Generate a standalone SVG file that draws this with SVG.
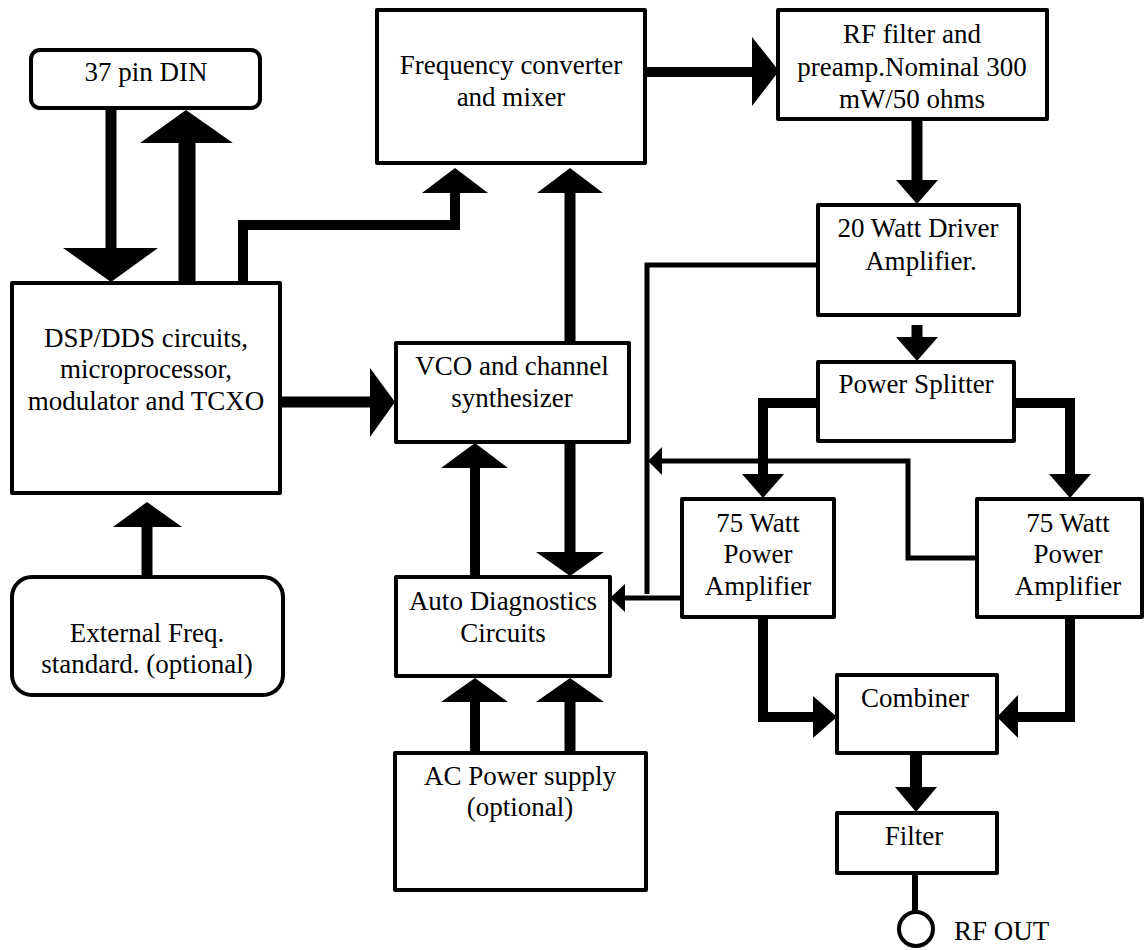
<svg xmlns="http://www.w3.org/2000/svg" width="1145" height="950" viewBox="0 0 1145 950">
<style>
.box{fill:#fff;stroke:#000;stroke-width:4;stroke-linejoin:round}
.t{font-family:"Liberation Serif","Times New Roman",serif;font-size:27px;fill:#000;text-anchor:middle}
.th{fill:none;stroke:#000;stroke-width:11;stroke-linejoin:miter;stroke-linecap:butt}
.tn{fill:none;stroke:#000;stroke-width:5;stroke-linejoin:miter;stroke-linecap:butt}
.hd{fill:#000;stroke:none}
</style>
<rect width="1145" height="950" fill="#fff"/>
<g id="connectors">
  <!-- DIN -> DSP -->
  <line class="th" x1="111" y1="108" x2="111" y2="250"/>
  <polygon class="hd" points="63,248 158,248 111,282"/>
  <!-- DSP -> DIN -->
  <line class="th" style="stroke-width:17" x1="187" y1="283" x2="187" y2="141"/>
  <polygon class="hd" points="140,143 233,143 186,110"/>
  <!-- DSP -> Freq -->
  <polyline class="th" style="stroke-width:10" points="243,283 243,225 455,225 455,191"/>
  <polygon class="hd" points="422,193 488,193 455,168"/>
  <!-- VCO -> Freq -->
  <line class="th" x1="570" y1="343" x2="570" y2="191"/>
  <polygon class="hd" points="537,193 603,193 570,168"/>
  <!-- Freq -> RF -->
  <line class="th" style="stroke-width:10" x1="645" y1="72" x2="754" y2="72"/>
  <polygon class="hd" points="752,37 752,106 779,71"/>
  <!-- RF -> Driver -->
  <line class="th" x1="917" y1="119" x2="917" y2="182"/>
  <polygon class="hd" points="896,180 938,180 917,204"/>
  <!-- Driver -> Splitter -->
  <line class="th" x1="917" y1="325" x2="917" y2="339"/>
  <polygon class="hd" points="896,337 938,337 917,361"/>
  <!-- DSP -> VCO -->
  <line class="th" x1="280" y1="402" x2="372" y2="402"/>
  <polygon class="hd" points="370,368 370,437 395,402"/>
  <!-- Ext -> DSP -->
  <line class="th" x1="147" y1="577" x2="147" y2="525"/>
  <polygon class="hd" points="113,527 182,527 147,502"/>
  <!-- Diag -> VCO -->
  <line class="th" style="stroke-width:10" x1="475" y1="577" x2="475" y2="466"/>
  <polygon class="hd" points="441,468 508,468 475,443"/>
  <!-- VCO -> Diag -->
  <line class="th" x1="570" y1="442" x2="570" y2="554"/>
  <polygon class="hd" points="536,552 604,552 570,576"/>
  <!-- AC -> Diag -->
  <line class="th" style="stroke-width:10" x1="475" y1="753" x2="475" y2="700"/>
  <polygon class="hd" points="441,702 508,702 475,678"/>
  <line class="th" x1="570" y1="753" x2="570" y2="700"/>
  <polygon class="hd" points="536,702 604,702 570,678"/>
  <!-- Splitter -> Amps -->
  <polyline class="th" style="stroke-width:10" points="818,403 763,403 763,476"/>
  <polygon class="hd" points="742,474 784,474 763,498"/>
  <polyline class="th" style="stroke-width:10" points="1014,403 1070,403 1070,476"/>
  <polygon class="hd" points="1049,474 1091,474 1070,498"/>
  <!-- Amps -> Combiner -->
  <polyline class="th" style="stroke-width:10" points="763,617 763,717 815,717"/>
  <polygon class="hd" points="813,696 813,738 837,717"/>
  <polyline class="th" style="stroke-width:10" points="1070,617 1070,717 1016,717"/>
  <polygon class="hd" points="1018,695 1018,738 997,717"/>
  <!-- Combiner -> Filter -->
  <line class="th" style="stroke-width:12" x1="916" y1="753" x2="916" y2="789"/>
  <polygon class="hd" points="895,787 937,787 916,812"/>
  <!-- Filter -> RF OUT -->
  <line class="tn" style="stroke-width:6" x1="915" y1="873" x2="915" y2="912"/>
  <!-- Driver -> Diag (thin) -->
  <polyline class="tn" points="818,265 647,265 647,594"/>
  <!-- Amp1 -> Diag -->
  <line class="tn" x1="682" y1="598" x2="623" y2="598"/>
  <polygon class="hd" points="625,584 625,612 610,598"/>
  <!-- Amp2 feedback -->
  <polyline class="tn" points="977,558 908,558 908,461 661,461"/>
  <polygon class="hd" points="662,447 662,475 648,461"/>
</g>
<g id="din">
  <rect class="box" x="31" y="50" width="229" height="58" rx="9"/>
  <text class="t" x="146" y="81">37 pin DIN</text>
</g>
<g id="freq">
  <rect class="box" x="377" y="10" width="268" height="153"/>
  <text class="t" x="511" y="74">Frequency converter</text>
  <text class="t" x="511" y="106">and mixer</text>
</g>
<g id="rf">
  <rect class="box" x="778" y="10" width="269" height="109"/>
  <text class="t" x="912" y="43">RF filter and</text>
  <text class="t" x="912" y="76">preamp.Nominal 300</text>
  <text class="t" x="912" y="108">mW/50 ohms</text>
</g>
<g id="driver">
  <rect class="box" x="818" y="205" width="201" height="110"/>
  <text class="t" x="918" y="237">20 Watt Driver</text>
  <text class="t" x="921" y="270">Amplifier.</text>
</g>
<g id="dsp">
  <rect class="box" x="12" y="283" width="268" height="210"/>
  <text class="t" x="146" y="347">DSP/DDS circuits,</text>
  <text class="t" x="146" y="378">microprocessor,</text>
  <text class="t" x="146" y="410">modulator and TCXO</text>
</g>
<g id="vco">
  <rect class="box" x="396" y="343" width="233" height="99"/>
  <text class="t" x="512" y="375">VCO and channel</text>
  <text class="t" x="512" y="407">synthesizer</text>
</g>
<g id="splitter">
  <rect class="box" x="818" y="362" width="196" height="79"/>
  <text class="t" x="916" y="393">Power Splitter</text>
</g>
<g id="amp1">
  <rect class="box" x="682" y="499" width="152" height="118"/>
  <text class="t" x="758" y="532">75 Watt</text>
  <text class="t" x="758" y="563">Power</text>
  <text class="t" x="758" y="595">Amplifier</text>
</g>
<g id="amp2">
  <rect class="box" x="977" y="499" width="165" height="118"/>
  <text class="t" x="1068" y="532">75 Watt</text>
  <text class="t" x="1068" y="563">Power</text>
  <text class="t" x="1068" y="595">Amplifier</text>
</g>
<g id="diag">
  <rect class="box" x="396" y="577" width="214" height="99"/>
  <text class="t" x="503" y="610">Auto Diagnostics</text>
  <text class="t" x="503" y="642">Circuits</text>
</g>
<g id="ext">
  <rect class="box" x="12" y="577" width="271" height="118" rx="20"/>
  <text class="t" x="147" y="642">External Freq.</text>
  <text class="t" x="147" y="673">standard. (optional)</text>
</g>
<g id="ac">
  <rect class="box" x="395" y="753" width="251" height="137"/>
  <text class="t" x="520" y="785">AC Power supply</text>
  <text class="t" x="520" y="816">(optional)</text>
</g>
<g id="combiner">
  <rect class="box" x="837" y="675" width="160" height="78"/>
  <text class="t" x="915" y="707">Combiner</text>
</g>
<g id="filter">
  <rect class="box" x="837" y="813" width="160" height="60"/>
  <text class="t" x="914" y="845">Filter</text>
</g>
<g id="rfout">
  <circle cx="916" cy="929" r="17" fill="#fff" stroke="#000" stroke-width="4"/>
  <text class="t" style="text-anchor:start" x="954" y="940">RF OUT</text>
</g>
</svg>
